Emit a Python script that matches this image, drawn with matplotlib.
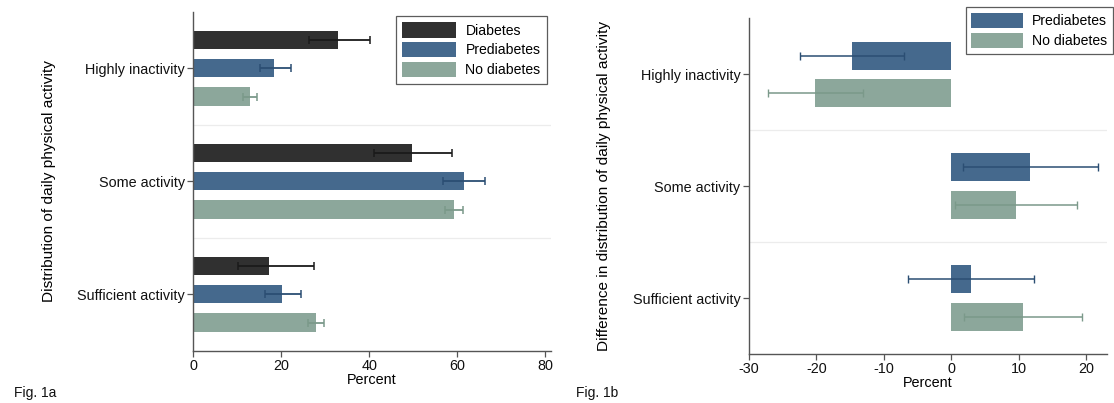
import matplotlib
matplotlib.use("Agg")
import matplotlib.pyplot as plt
from matplotlib.patches import Patch
import numpy as np

plt.rcParams['font.family'] = ['Liberation Sans', 'DejaVu Sans']
plt.rcParams['axes.unicode_minus'] = False

categories = ["Highly inactivity", "Some activity", "Sufficient activity"]

# Fig 1a: distribution (percent) with 95% CI
groups_a = ["Diabetes", "Prediabetes", "No diabetes"]
diab_val = [33.0, 49.8, 17.1]
diab_lo = [26.4, 41.1, 10.2]
diab_hi = [40.2, 58.7, 27.5]
pre_val = [18.3, 61.5, 20.1]
pre_lo = [15.1, 56.8, 16.4]
pre_hi = [22.1, 66.2, 24.4]
nod_val = [12.8, 59.3, 27.8]
nod_lo = [11.4, 57.3, 26.1]
nod_hi = [14.4, 61.4, 29.6]

# Fig 1b: difference vs diabetes (percentage points) with 95% CI
groups_b = ["Prediabetes", "No diabetes"]
dpre_val = [-14.7, 11.7, 2.9]
dpre_lo = [-22.4, 1.7, -6.4]
dpre_hi = [-7.0, 21.7, 12.3]
dnod_val = [-20.2, 9.6, 10.6]
dnod_lo = [-27.2, 0.5, 1.8]
dnod_hi = [-13.1, 18.6, 19.3]

xticks_a = [0, 20, 40, 60, 80]
xticks_b = [-30, -20, -10, 0, 10, 20]

col_diab = '#303030'
col_pre = '#45698d'
col_nod = '#8ca79b'
ecol_diab = '#1a1a1a'
ecol_pre = '#2b4e73'
ecol_nod = '#7b998a'
spine_col = '#555555'
sep_col = '#ececec'
FS = 10.4
LFS = 10.1

fig = plt.figure(figsize=(11.14, 4.03), dpi=100)
W, H = 1114, 403

def axes_px(x0, x1, ytop, ybot):
    return fig.add_axes([x0 / W, 1 - ybot / H, (x1 - x0) / W, (ybot - ytop) / H])

def style_axes(ax):
    for s in ['top', 'right']:
        ax.spines[s].set_visible(False)
    for s in ['left', 'bottom']:
        ax.spines[s].set_color(spine_col)
        ax.spines[s].set_linewidth(1.0)
    ax.tick_params(axis='both', direction='out', length=4, width=0.9, color=spine_col,
                   labelsize=FS, labelcolor='#111111', pad=2)
    ax.set_ylim(2.5, -0.5)
    ax.set_yticks(np.arange(len(categories)))
    ax.set_yticklabels(categories)
    for yy in [0.5, 1.5]:
        ax.axhline(yy, color=sep_col, lw=0.9, zorder=0)

y = np.arange(len(categories))

# ---- Fig 1a ----
ax1 = axes_px(193.3, 551, 11.7, 350.7)
style_axes(ax1)
off = 0.251
h1 = 0.163
series_a = [
    (diab_val, diab_lo, diab_hi, col_diab, ecol_diab, -off),
    (pre_val, pre_lo, pre_hi, col_pre, ecol_pre, 0.0),
    (nod_val, nod_lo, nod_hi, col_nod, ecol_nod, off),
]
for val, lo, hi, c, ec, o in series_a:
    val = np.array(val); lo = np.array(lo); hi = np.array(hi)
    ax1.barh(y + o, val, height=h1, color=c, zorder=2)
    ax1.errorbar(val, y + o, xerr=[val - lo, hi - val], fmt='none', ecolor=ec,
                 elinewidth=1.3, capsize=3, capthick=1.1, zorder=3)
ax1.set_xlim(0, 81.3)
ax1.set_xticks(xticks_a)
ax1.set_xlabel("Percent", fontsize=FS, labelpad=0)
ax1.set_ylabel("Distribution of daily physical activity", fontsize=11.1)
ax1.yaxis.set_label_coords(-0.385, 0.5)
handles_a = [Patch(facecolor=c, edgecolor='none') for c in [col_diab, col_pre, col_nod]]
leg1 = fig.legend(handles_a, groups_a, loc='upper left',
                  bbox_to_anchor=(396 / W, 1 - 16 / H), fontsize=LFS,
                  frameon=True, fancybox=False, edgecolor='#333333',
                  handlelength=3.8, handleheight=1.3, handletextpad=0.7,
                  labelspacing=0.32, borderpad=0.45, borderaxespad=0)
leg1.get_frame().set_linewidth(0.9)

# ---- Fig 1b ----
ax2 = axes_px(748.7, 1106.7, 18.3, 354)
style_axes(ax2)
off2 = 0.167
h2 = 0.25
series_b = [
    (dpre_val, dpre_lo, dpre_hi, col_pre, ecol_pre, -off2),
    (dnod_val, dnod_lo, dnod_hi, col_nod, ecol_nod, off2),
]
for val, lo, hi, c, ec, o in series_b:
    val = np.array(val); lo = np.array(lo); hi = np.array(hi)
    ax2.barh(y + o, val, height=h2, color=c, zorder=2)
    ax2.errorbar(val, y + o, xerr=[val - lo, hi - val], fmt='none', ecolor=ec,
                 elinewidth=1.1, capsize=3, capthick=1.0, zorder=3)
ax2.set_xlim(-30, 23.0)
ax2.set_xticks(xticks_b)
ax2.set_xlabel("Percent", fontsize=FS, labelpad=0)
ax2.set_ylabel("Difference in distribution of daily physical activity", fontsize=11.1)
ax2.yaxis.set_label_coords(-0.385, 0.5)
handles_b = [Patch(facecolor=c, edgecolor='none') for c in [col_pre, col_nod]]
leg2 = fig.legend(handles_b, groups_b, loc='upper right',
                  bbox_to_anchor=(1112.5 / W, 1 - 7.5 / H), fontsize=LFS,
                  frameon=True, fancybox=False, edgecolor='#333333',
                  handlelength=3.7, handleheight=1.3, handletextpad=0.6,
                  labelspacing=0.32, borderpad=0.4, borderaxespad=0)
leg2.get_frame().set_linewidth(0.9)

fig.text(14 / W, 1 - 393 / H, "Fig. 1a", fontsize=10, va='center', ha='left', color='#111111')
fig.text(576 / W, 1 - 393 / H, "Fig. 1b", fontsize=10, va='center', ha='left', color='#111111')

fig.savefig("out.png", dpi=100)
